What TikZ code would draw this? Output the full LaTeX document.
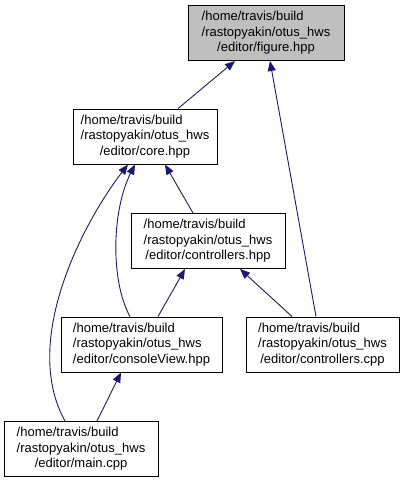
\documentclass[tikz,border=0pt]{standalone}
\usepackage{fontspec}
\setmainfont{Liberation Sans}
\usepackage{xcolor}
\usepackage{tikz}
\usetikzlibrary{arrows.meta}
\definecolor{edgeblue}{HTML}{191970}
\newcommand{\incpath}[1]{\begin{tabular}{@{}l@{}}/home/travis/build\\
  /rastopyakin/otus\_hws\\\multicolumn{1}{@{}c@{}}{/editor/#1}\end{tabular}}

\begin{document}
\begin{tikzpicture}[x=1pt, y=-1pt, thick, font=\fontsize{13}{15.5}\selectfont]

  \tikzset{file/.style={draw, line width=1pt, minimum height=55pt, inner sep=0pt},
           dep/.style={draw=edgeblue, line width=0.9pt,
                       -{Triangle[length=10pt, width=8pt]}}}
  \useasboundingbox (0,0) rectangle (405,483);

  % files
  \node[file, fill=gray!50, minimum width=156pt] (figure) at (266,33) {\incpath{figure.hpp}};
  \node[file, minimum width=144pt] (core) at (145,136.5) {\incpath{core.hpp}};
  \node[file, minimum width=154pt] (ctrlhpp) at (208,241) {\incpath{controllers.hpp}};
  \node[file, minimum width=161pt] (console) at (141.5,344.5) {\incpath{consoleView.hpp}};
  \node[file, minimum width=153pt] (ctrlcpp) at (322.5,344.5) {\incpath{controllers.cpp}};
  \node[file, minimum width=154pt] (main) at (81,449) {\incpath{main.cpp}};

  % includes
  \draw[dep] ([xshift=33pt]core.north) -- ([xshift=-31pt]figure.south);
  \draw[dep] ([xshift=-6.5pt]ctrlcpp.north) -- ([xshift=4pt]figure.south);
  \draw[dep] ([xshift=-15pt]ctrlhpp.north) -- ([xshift=20pt]core.south);
  \draw[dep] ([xshift=-11.5pt]console.north) .. controls (110,280) and (112,210)
    .. ([xshift=-10pt]core.south);
  \draw[dep] ([xshift=-16pt]main.north) .. controls (20,340) and (85,220)
    .. ([xshift=-17pt]core.south);
  \draw[dep] ([xshift=16.5pt]console.north) -- ([xshift=-23pt]ctrlhpp.south);
  \draw[dep] ([xshift=-30.5pt]ctrlcpp.north) -- ([xshift=32pt]ctrlhpp.south);
  \draw[dep] ([xshift=16pt]main.north) -- ([xshift=-20.5pt]console.south);

\end{tikzpicture}
\end{document}
